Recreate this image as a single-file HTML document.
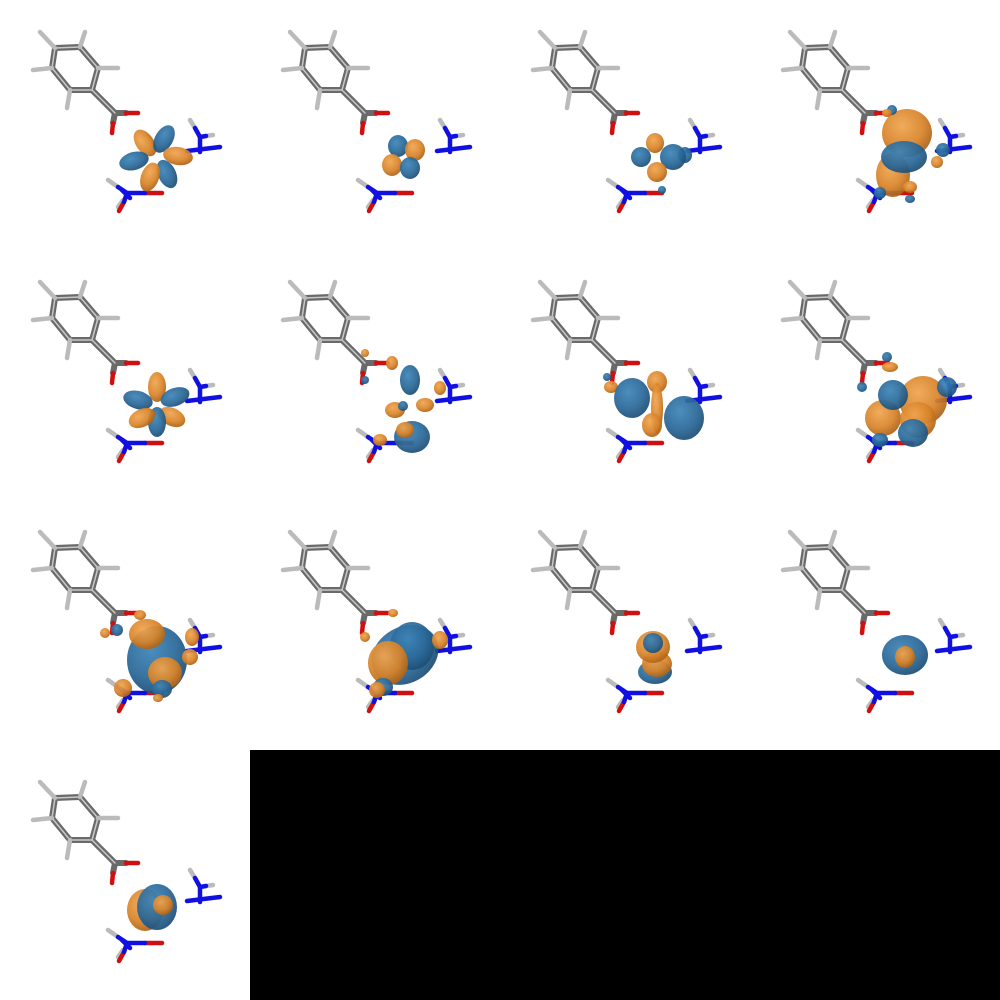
<!DOCTYPE html>
<html><head><meta charset="utf-8"><style>
html,body{margin:0;padding:0;background:#fff;width:1000px;height:1000px;overflow:hidden}
svg{display:block}
</style></head><body>
<svg id="root" width="1000" height="1000" viewBox="0 0 1000 1000">
<defs>
<radialGradient id="go" cx="40%" cy="35%" r="70%"><stop offset="0" stop-color="#f0a550"/><stop offset="0.6" stop-color="#d8842a"/><stop offset="1" stop-color="#a85e14"/></radialGradient>
<radialGradient id="gb" cx="40%" cy="35%" r="70%"><stop offset="0" stop-color="#3d85b8"/><stop offset="0.6" stop-color="#2a6898"/><stop offset="1" stop-color="#1b4a70"/></radialGradient>
<g id="mol">
<g fill="none" stroke-linecap="round" stroke-linejoin="round">
<g stroke="#6a6a6a" stroke-width="6">
<path d="M55 48 L80 47 L98 68 L92 90 L70 90 L52 68 Z"/>
<path d="M92 90 L115 113 L126 113"/><path d="M115 113 L113 123"/>
</g>
<g stroke="#c8c8c8" stroke-width="1.5">
<path d="M55 48 L80 47 L98 68 L92 90 L70 90 L52 68 Z"/>
<path d="M92 90 L115 113"/>
</g>
<g stroke="#bbb" stroke-width="4.5">
<path d="M55 48 L40 32"/><path d="M80 47 L85 32"/><path d="M98 68 L118 68"/><path d="M52 68 L33 70"/><path d="M70 90 L67 108"/>
<path d="M190 120 L195 128"/><path d="M206 136 L213 135"/><path d="M108 180 L118 187"/><path d="M123 200 L118 207"/>
</g>
<g stroke="#d01010" stroke-width="4.5"><path d="M126 113 L138 113"/><path d="M113 123 L112 133"/><path d="M145 193 L162 193"/><path d="M124 202 L119 211"/></g>
<g stroke="#1010e0" stroke-width="4.5"><path d="M195 128 L200 137 L206 136"/><path d="M200 137 L200 152"/><path d="M187 151 L220 147"/><path d="M118 187 L127 193 L145 193"/><path d="M127 193 L124 202"/><path d="M122 190 L130 198"/></g>
</g>
</g>
</defs>
<rect x="250" y="750" width="750" height="250" fill="#000"/>
</svg>
<script>
// blobs per panel: [color, cx, cy, rx, ry, rotation]
const panel1 = [['o',145,143,9,15,-35],['b',164,139,9,15,30],['o',178,156,15,9,10],['b',167,174,9,15,-25],['o',150,177,9,15,20],['b',134,161,15,9,-15]];
const panel2 = [['b',148,146,10,11,0],['o',165,150,10,11,0],['o',142,165,10,11,0],['b',160,168,10,11,0]];
const panel3 = [['b',185,155,7,8,0],['b',173,157,13,13,0],['o',155,143,9,10,0],['o',157,172,10,10,0],['b',141,157,10,10,0],['b',162,190,4,4,0]];
const panel4 = [['o',157,133,25,24,0],['o',143,175,17,22,0],['b',154,157,23,16,0],['o',160,187,7,6,0],['b',160,199,5,4,0],['b',142,110,5,5,0],['o',137,113,5,4,0],['b',193,150,7,7,0],['o',187,162,6,6,0],['b',130,193,6,6,0]];
const panel5 = [['o',157,137,9,15,0],['b',175,147,15,9,-20],['b',138,150,15,9,15],['o',172,167,14,9,25],['b',157,172,9,15,0],['o',142,168,14,9,-25]];
const panel6 = [['o',142,113,6,7,0],['b',160,130,10,15,0],['o',145,160,10,8,0],['o',175,155,9,7,0],['b',153,156,5,5,0],['b',162,187,18,16,0],['o',155,180,9,8,0],['o',130,190,7,6,0],['b',115,130,4,4,0],['o',115,103,4,4,0],['o',190,138,6,7,0]];
const panel7 = [['b',107,127,4,4,0],['o',111,137,7,6,0],['b',132,148,18,20,0],['b',184,168,20,22,0],['o',157,132,10,11,0],['o',157,158,6,25,0],['o',152,175,10,12,0]];
const panel8 = [['o',133,168,18,18,0],['o',173,150,24,24,0],['o',168,170,18,18,0],['b',143,145,15,15,0],['b',163,183,15,14,0],['b',197,137,10,10,0],['b',137,107,5,5,0],['o',140,117,8,5,0],['b',112,137,5,5,0],['b',130,190,8,7,0]];
const panel9 = [['b',157,160,30,34,0],['o',147,134,18,15,0],['o',165,173,17,16,0],['b',162,189,10,9,0],['o',123,188,9,9,0],['o',192,137,7,9,0],['o',190,157,8,8,0],['b',117,130,6,6,0],['o',105,133,5,5,0],['o',140,115,6,5,0],['o',158,198,5,4,0]];
const panel10 = [['b',155,155,35,28,-30],['b',162,146,22,24,0],['o',138,163,20,22,0],['b',133,187,10,9,0],['o',127,190,8,8,0],['o',190,140,8,9,0],['o',143,113,5,4,0],['o',115,137,5,5,0]];
const panel11 = [['b',155,172,17,12,0],['o',157,164,15,13,0],['o',153,147,17,16,0],['b',153,143,10,10,0]];
const panel12 = [['b',155,155,23,20,0],['o',155,157,10,11,0]];
const panel13 = [['o',145,160,18,21,0],['b',157,157,20,23,0],['o',163,155,10,10,0]];
const panels = [panel1,panel2,panel3,panel4,panel5,panel6,panel7,panel8,panel9,panel10,panel11,panel12,panel13];
const NS='http://www.w3.org/2000/svg';
const root=document.getElementById('root');
panels.forEach((blobs,i)=>{
  const g=document.createElementNS(NS,'g');
  g.setAttribute('transform','translate('+(i%4)*250+','+Math.floor(i/4)*250+')');
  
  
  const u=document.createElementNS(NS,'use');
  u.setAttribute('href','#mol');
  
  
  g.appendChild(u);
  blobs.forEach(b=>{
    const e=document.createElementNS(NS,'ellipse');
    e.setAttribute('cx',b[1]);e.setAttribute('cy',b[2]);e.setAttribute('rx',b[3]);e.setAttribute('ry',b[4]);
    e.setAttribute('transform','rotate('+b[5]+' '+b[1]+' '+b[2]+')');
    e.setAttribute('fill',b[0]==='o'?'url(#go)':'url(#gb)');
    e.setAttribute('fill-opacity','0.93');
    
    
    g.appendChild(e);
  });
  root.insertBefore(g,root.lastElementChild);
});
</script>
</body></html>
